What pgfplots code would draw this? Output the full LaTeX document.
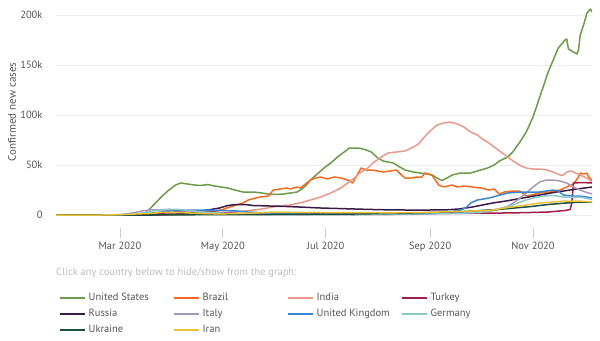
\documentclass[border=0pt]{standalone}
\usepackage{pgfplots}
\pgfplotsset{compat=1.18}
\usepackage{fontspec}
\setmainfont{PT Sans}
\definecolor{cUS}{HTML}{6B9A48}
\definecolor{cBR}{HTML}{F26B21}
\definecolor{cIN}{HTML}{E8998A}
\definecolor{cTR}{HTML}{A11D45}
\definecolor{cRU}{HTML}{3A1A47}
\definecolor{cIT}{HTML}{A598BC}
\definecolor{cUK}{HTML}{3B85CF}
\definecolor{cDE}{HTML}{8CC8CB}
\definecolor{cUA}{HTML}{1F4F3A}
\definecolor{cIR}{HTML}{E9C23A}
\definecolor{txt}{HTML}{555555}
\definecolor{clk}{HTML}{BBBBBB}
\definecolor{grd}{HTML}{EEEEEE}
\begin{document}
\begin{tikzpicture}[x=1bp,y=1bp]
\path[use as bounding box] (0,0) rectangle (600,340);
\begin{axis}[
  at={(56bp,112bp)}, anchor=south west,
  scale only axis, width=536bp, height=225bp,
  xmin=23, xmax=341, ymin=-13000, ymax=212000,
  axis line style={draw=none},
  xtick={61,122,183,245,306},
  xticklabels={Mar 2020,May 2020,Jul 2020,Sep 2020,Nov 2020},
  xtick pos=bottom, tick align=outside,
  major tick length=10bp,
  xtick style={draw=grd!70!gray, line width=0.8bp},
  ytick={0,50000,100000,150000,200000},
  yticklabels={0,50k,100k,150k,200k},
  ytick style={draw=none},
  ymajorgrids, major grid style={draw=grd, line width=0.8bp},
  tick label style={font=\fontsize{10.5bp}{12bp}\selectfont, text=txt},
  scaled y ticks=false,
  ylabel={Confirmed new cases},
  every axis y label/.style={at={(axis description cs:-0.082,0.516)}, rotate=90, anchor=center, font=\fontsize{11bp}{13bp}\selectfont, text=txt},
  legend columns=4,
  legend style={draw=none, fill=none, at={(axis description cs:0,-0.2756)}, anchor=north west,
    font=\fontsize{10.5bp}{12bp}\selectfont, text=txt,
    nodes={inner xsep=2.5bp, inner ysep=1bp, text height=7.5bp, text depth=2.5bp},
    row sep=4bp},
  legend cell align=left,
  legend image code/.code={\draw[#1, line width=2bp] (0bp,0bp) -- (25bp,0bp);},
  every axis plot/.append style={line width=1.5bp, line join=round},
]
% United States
\addplot[cUS] coordinates {(22,0)(40,0)(55,0)(65,100)(72,500)(76,2000)(78,5000)(82,12000)(86,19000)(90,25000)(94,30000)(97,32000)(101,31000)(105,30000)(109,29500)(113,30500)(117,29000)(121,28000)(125,27000)(129,25000)(134,23000)(140,23000)(145,22000)(149,21000)(153,20500)(158,21000)(162,22000)(166,23000)(168,25000)(171,29000)(174,35000)(178,41000)(182,47000)(186,52000)(190,58000)(194,63000)(197,67000)(201,67000)(204,66500)(207,65000)(210,63000)(214,57000)(217,54000)(220,53000)(223,52000)(227,48000)(230,45000)(235,43000)(239,42000)(243,41000)(246,40000)(249,37000)(252,34500)(255,37000)(258,40000)(263,42000)(269,42000)(273,44000)(279,47000)(283,50000)(286,54000)(291,58000)(294,63000)(299,75000)(302,83000)(306,98000)(310,118000)(315,143000)(321,167000)(325,175000)(326,176000)(327,166000)(329,164000)(332,161000)(333,165000)(334,180000)(336,190000)(338,202000)(340,206000)(341,203000)};
% Brazil
\addplot[cBR] coordinates {(22,0)(60,0)(75,100)(90,800)(100,1200)(110,2500)(115,3500)(121,5000)(128,9000)(134,12000)(137,15000)(144,18000)(149,19000)(152,25000)(156,26000)(160,27000)(162,26000)(166,28000)(168,27000)(174,35000)(177,37000)(180,38000)(184,36000)(188,38000)(192,37000)(196,35000)(199,32000)(201,38000)(204,47000)(207,45000)(210,45000)(214,44000)(217,43000)(221,44000)(225,45000)(228,40000)(230,37000)(234,37000)(237,38000)(240,38000)(242,42000)(244,41000)(246,40000)(248,35000)(250,30000)(253,28000)(258,30000)(261,28000)(265,29000)(270,28000)(275,27000)(280,25000)(283,26000)(286,21000)(289,23000)(294,24000)(298,24000)(302,19000)(305,20000)(310,22000)(316,23000)(322,25000)(326,28000)(330,31000)(333,38000)(334,42000)(336,41000)(338,42000)(339,38000)(341,35000)};
% India
\addplot[cIN] coordinates {(22,0)(80,0)(95,500)(110,1500)(122,2000)(135,4000)(145,6000)(155,9000)(162,10000)(170,13000)(180,18000)(186,22000)(192,27000)(196,32000)(200,37000)(204,43000)(208,47000)(211,52000)(216,58000)(220,62000)(225,63000)(230,64000)(235,68000)(238,71000)(241,77000)(245,84000)(249,90000)(253,92000)(257,93000)(261,91000)(265,88000)(269,83000)(273,80000)(276,76000)(279,73000)(283,68000)(287,63000)(291,58000)(295,53000)(299,49000)(302,47000)(306,46000)(310,46000)(314,45000)(318,43000)(322,40000)(324,40000)(326,43000)(328,44000)(330,43000)(334,40000)(338,37000)(341,33000)};
% Turkey
\addplot[cTR] coordinates {(22,0)(70,0)(80,500)(90,2500)(97,3500)(105,4200)(112,3500)(120,2500)(130,1500)(140,1000)(160,1200)(180,1100)(200,1000)(220,1200)(240,1500)(260,1700)(280,1800)(300,2300)(315,3000)(325,4500)(328,5500)(329,12000)(330,32000)(335,32500)(341,32000)};
% Russia
\addplot[cRU] coordinates {(22,0)(80,0)(95,800)(105,3000)(113,5000)(120,7000)(125,9500)(130,10500)(135,10500)(140,9500)(150,9000)(160,8500)(170,7800)(180,7000)(190,6500)(200,6000)(215,5300)(230,5000)(245,5000)(255,5200)(262,6000)(270,8000)(276,10000)(282,12000)(290,14000)(300,17000)(310,20000)(320,23000)(330,25500)(341,28000)};
% Italy
\addplot[cIT] coordinates {(22,0)(55,0)(62,500)(68,2000)(74,4000)(80,5300)(86,5000)(92,4500)(100,4000)(108,3000)(115,2500)(122,1800)(130,1200)(140,800)(150,500)(170,300)(200,250)(220,400)(240,1000)(260,1600)(275,2500)(283,4500)(291,8500)(296,14000)(302,22000)(306,28000)(310,33000)(314,35000)(318,35000)(322,34000)(326,32000)(330,28000)(334,25000)(338,22500)(341,21000)};
% United Kingdom
\addplot[cUK] coordinates {(22,0)(60,0)(70,500)(80,2000)(88,3500)(95,4500)(100,5000)(108,5000)(115,4800)(122,4500)(130,4000)(137,3000)(145,2200)(155,1500)(165,1000)(180,700)(200,700)(220,1000)(235,1200)(245,1500)(252,2500)(258,3500)(263,5000)(266,7000)(269,12000)(273,15000)(280,17000)(291,22000)(300,23000)(310,23000)(318,25000)(321,24000)(324,20000)(330,19000)(334,19000)(341,17000)};
% Germany
\addplot[cDE] coordinates {(22,0)(60,0)(70,1000)(78,3000)(84,5000)(90,5800)(96,5500)(102,4500)(110,3000)(118,2000)(125,1200)(135,800)(150,500)(170,400)(190,500)(210,900)(230,1200)(250,1500)(265,2000)(275,2800)(283,5000)(290,8000)(294,10000)(300,14000)(306,17000)(312,19000)(318,19500)(324,18000)(330,18000)(334,18000)(341,15500)};
% Ukraine
\addplot[cUA] coordinates {(22,0)(90,100)(120,400)(150,500)(180,800)(200,1000)(220,1500)(240,2200)(255,3000)(265,3500)(275,4500)(285,5500)(295,7000)(305,8500)(315,10500)(322,11500)(330,12500)(336,13000)(341,13000)};
% Iran
\addplot[cIR] coordinates {(22,0)(50,0)(60,300)(70,1000)(78,1500)(85,2500)(92,2800)(100,2200)(110,1500)(120,1100)(130,1500)(140,2000)(150,2800)(160,2800)(170,2600)(180,2500)(190,2400)(200,2300)(210,2300)(220,2200)(230,2300)(240,2500)(250,3000)(260,3500)(270,4000)(280,4500)(291,7500)(300,9500)(310,12000)(318,13000)(326,14000)(333,14000)(341,13000)};
\legend{\makebox[82bp][l]{United States},\makebox[82bp][l]{Brazil},\makebox[82bp][l]{India},\makebox[82bp][l]{Turkey},\makebox[82bp][l]{Russia},\makebox[82bp][l]{Italy},\makebox[82bp][l]{United Kingdom},\makebox[82bp][l]{Germany},\makebox[82bp][l]{Ukraine},\makebox[82bp][l]{Iran}}
\end{axis}
\node[anchor=west, text=clk, font=\fontsize{10.5bp}{12bp}\selectfont, inner sep=0pt] at (56,67) {Click any country below to hide/show from the graph:};
\end{tikzpicture}
\end{document}
